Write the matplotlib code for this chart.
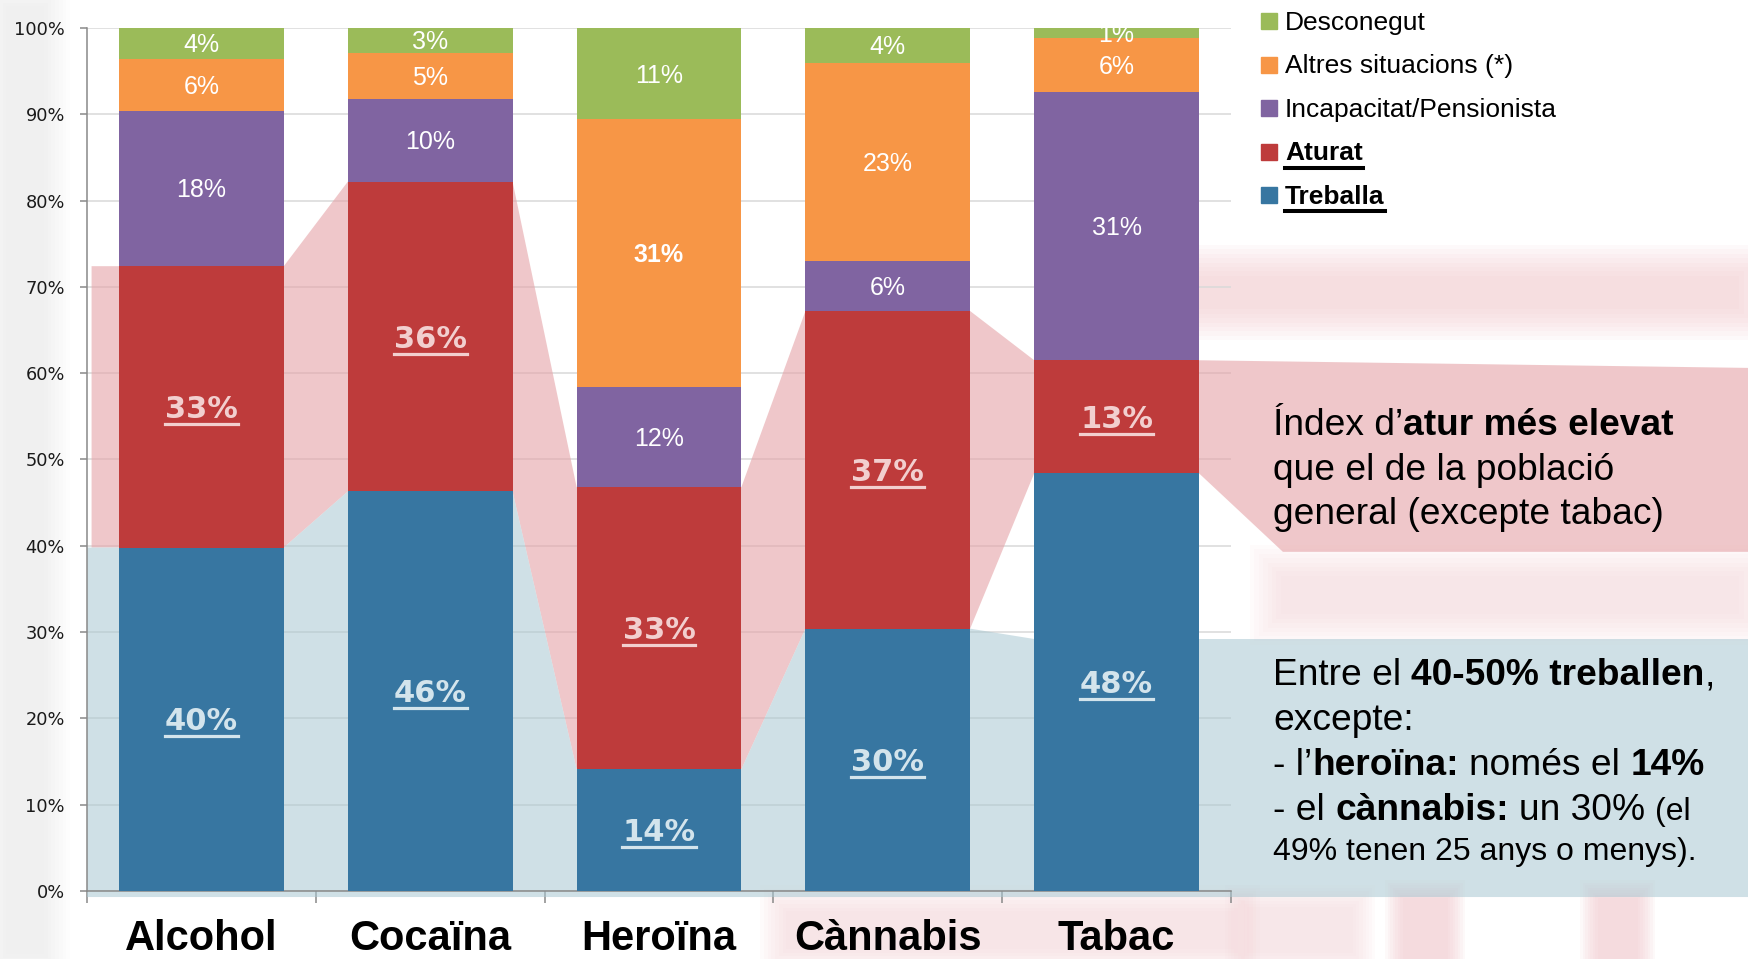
import numpy as np
import matplotlib.pyplot as plt
from matplotlib.patches import Polygon, Rectangle
from matplotlib.lines import Line2D
from matplotlib.transforms import offset_copy

W, H = 1748, 959

categories = ["Alcohol", "Cocaïna", "Heroïna", "Cànnabis", "Tabac"]
treballa = [39.8, 46.3, 14.1, 30.4, 48.4]
aturat = [32.6, 35.9, 32.7, 36.8, 13.1]
incapacitat = [18.0, 9.6, 11.6, 5.8, 31.1]
altres = [6.0, 5.3, 31.0, 23.0, 6.2]
desconegut = [3.6, 2.9, 10.6, 4.0, 1.2]

series = [
    ("Treballa", treballa, "#3776A1"),
    ("Aturat", aturat, "#BE3B3B"),
    ("Incapacitat/Pensionista", incapacitat, "#8064A1"),
    ("Altres situacions (*)", altres, "#F79646"),
    ("Desconegut", desconegut, "#9BBB59"),
]
big_label_color = {"Treballa": "#D3E4EC", "Aturat": "#F2CFCF"}

fig = plt.figure(figsize=(W / 100, H / 100), dpi=100)
r = fig.canvas.get_renderer()

# faded background picture behind the chart, soft edged blobs
bg = fig.add_axes([0, 0, 1, 1], zorder=-1)
bg.set_xlim(0, W)
bg.set_ylim(H, 0)
bg.axis("off")


def soft_rect(bx, by, bw, bh, c, a, blur=25, n=8):
    for k in range(n):
        d = blur * k / n
        bg.add_patch(Rectangle((bx + d, by + d), bw - 2 * d, bh - 2 * d,
                               color=c, alpha=a / n * 1.6, lw=0))


for spec in [
    (-20, -20, 90, 1000, "#E4E4E4", 0.35, 30),
    (1150, 245, 620, 95, "#F3C6CB", 0.45, 35),
    (1250, 545, 520, 100, "#F5CDD2", 0.35, 35),
    (1385, 880, 80, 100, "#F3C6CB", 0.5, 20),
    (1580, 880, 75, 100, "#F3C6CB", 0.5, 20),
    (760, 885, 500, 90, "#F6D3D7", 0.45, 30),
    (1225, 885, 150, 90, "#F6D3D7", 0.4, 25),
]:
    soft_rect(*spec)

ax = fig.add_axes([87 / W, 1 - 891 / H, (1231 - 87) / W, (891 - 28) / H])
ax.patch.set_visible(False)
x = np.arange(len(categories))
width = 0.72
hw = width / 2

bottom = np.zeros(len(categories))
for name, vals, col in series:
    ax.bar(x, vals, width, bottom=bottom, color=col, zorder=3, linewidth=0)
    bottom = bottom + np.array(vals)

# highlighted bands connecting the Aturat and Treballa segments to the notes
t_top = np.array(treballa)
a_top = t_top + np.array(aturat)
pink = [(-0.48, a_top[0])]
for i in x:
    pink += [(i - hw, a_top[i]), (i + hw, a_top[i])]
pink += [(6.8, 60.6), (6.8, 39.3), (4.727, 39.3)]
for i in x[::-1]:
    pink += [(i + hw, t_top[i]), (i - hw, t_top[i])]
pink += [(-0.48, t_top[0])]
ax.add_patch(Polygon(pink, closed=True, facecolor="#E5A3A7", alpha=0.6,
                     lw=0, zorder=2, clip_on=False))

blue = [(-0.5, t_top[0])]
for i in x[:-1]:
    blue += [(i - hw, t_top[i]), (i + hw, t_top[i])]
blue += [(4 - hw, 29.2), (6.8, 29.2), (6.8, -0.7), (-0.5, -0.7)]
ax.add_patch(Polygon(blue, closed=True, facecolor="#A9C8D2", alpha=0.55,
                     lw=0, zorder=2, clip_on=False))

ax.set_xlim(-0.5, 4.5)
ax.set_ylim(0, 100)
ax.set_yticks(np.arange(0, 101, 10))
ax.set_yticklabels([f"{v}%" for v in range(0, 101, 10)])
ax.yaxis.grid(True, color="#D9D9D9", linewidth=1.1, zorder=0)
ax.set_axisbelow(True)
ax.tick_params(axis="y", length=5, width=1.1, color="#898989",
               labelsize=12.8, pad=11, labelcolor="#1a1a1a")
ax.set_xticks(np.arange(-0.5, 5, 1))
ax.set_xticklabels([])
ax.tick_params(axis="x", which="major", length=8.6, width=1.1, color="#898989")
ax.set_xticks(x, minor=True)
ax.set_xticklabels(categories, minor=True, fontsize=30, fontweight="bold",
                   family="Liberation Sans")
ax.tick_params(axis="x", which="minor", length=0, pad=20)
for s in ["top", "right"]:
    ax.spines[s].set_visible(False)
for s in ["left", "bottom"]:
    ax.spines[s].set_color("#898989")
    ax.spines[s].set_linewidth(1.1)

# segment labels
bottom = np.zeros(len(categories))
for name, vals, col in series:
    for i, v in enumerate(vals):
        c = bottom[i] + v / 2
        if name in big_label_color:
            size = 22
            cap = 0.729 * size * 100 / 72
            tr = offset_copy(ax.transData, fig=fig, x=0, y=-cap / 2, units="dots")
            t = ax.text(i, c, f"{v:.0f}%", transform=tr, ha="center", va="baseline",
                        fontsize=size, fontweight="bold", color=big_label_color[name],
                        zorder=5)
            bb = t.get_window_extent(r)
            base = ax.transData.transform((i, c))[1] - cap / 2
            fig.add_artist(Line2D([bb.x0 / W, bb.x1 / W], [(base - 6) / H] * 2,
                                  lw=2.3, color=big_label_color[name], zorder=6))
        else:
            size = 18
            cap = 0.716 * size * 100 / 72
            tr = offset_copy(ax.transData, fig=fig, x=0, y=-cap / 2, units="dots")
            bold = name == "Altres situacions (*)" and v > 30
            ax.text(i, c, f"{v:.0f}%", transform=tr, ha="center", va="baseline",
                    fontsize=size, fontweight="bold" if bold else "normal",
                    family="Liberation Sans", color="white", zorder=5, clip_on=True)
    bottom = bottom + np.array(vals)

# legend, drawn by hand because two entries are bold and underlined
for k, (name, vals, col) in enumerate(series[::-1]):
    base = 30 + k * 43.5
    fig.add_artist(Rectangle((1261 / W, 1 - (base - 1) / H), 16 / W, 16 / H,
                             color=col, transform=fig.transFigure))
    strong = name in big_label_color
    t = fig.text(1285 / W, 1 - base / H, name, fontsize=19, family="Liberation Sans",
                 fontweight="bold" if strong else "normal", va="baseline", ha="left")
    if strong:
        bb = t.get_window_extent(r)
        fig.add_artist(Line2D([bb.x0 / W, bb.x1 / W], [1 - (base + 7) / H] * 2,
                              lw=2.9, color="black"))


def rich_line(x0, base, parts, size=26.7):
    xx = x0
    for part in parts:
        txt, bold = part[0], part[1]
        sz = part[2] if len(part) > 2 else size
        sp = 0.278 * sz * 100 / 72
        lead = len(txt) - len(txt.lstrip(" "))
        trail = len(txt) - len(txt.rstrip(" "))
        xx += lead * sp
        t = fig.text(xx / W, 1 - base / H, txt.strip(" "), fontsize=sz,
                     family="Liberation Sans", fontweight="bold" if bold else "normal",
                     va="baseline", ha="left", color="black", zorder=5)
        xx = t.get_window_extent(r).x1 + trail * sp


rich_line(1273, 435, [("Índex d’", False), ("atur més elevat", True)])
rich_line(1273, 480, [("que el de la població", False)])
rich_line(1273, 524, [("general (excepte tabac)", False)])

rich_line(1273, 685, [("Entre el ", False), ("40-50% treballen", True), (",", False)])
rich_line(1273, 730, [("excepte:", False)])
rich_line(1273, 775, [("- l’", False), ("heroïna:", True), (" només el ", False), ("14%", True)])
rich_line(1273, 820, [("- el ", False), ("cànnabis:", True), (" un 30% ", False), ("(el", False, 23)])
rich_line(1273, 860, [("49% tenen 25 anys o menys).", False, 23)])

fig.savefig("out.png", dpi=100)
